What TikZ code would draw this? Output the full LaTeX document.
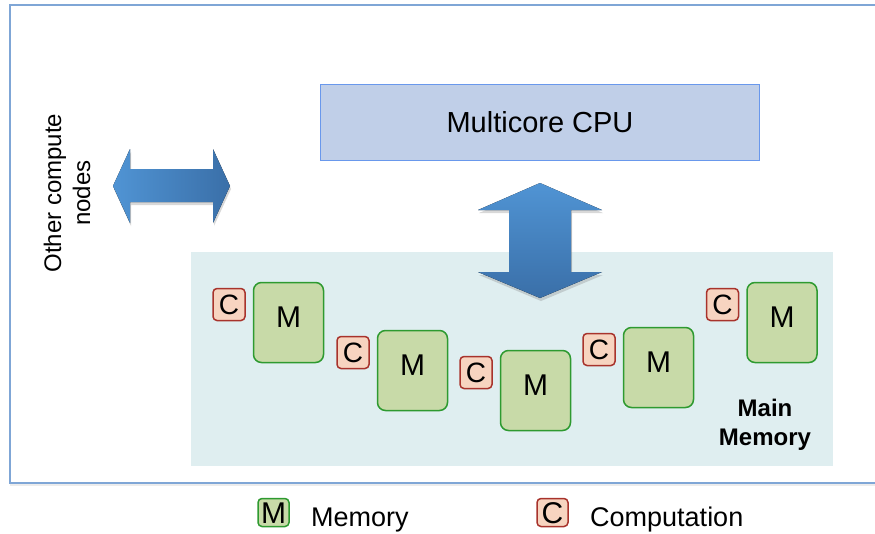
\documentclass[tikz,border=0pt]{standalone}
\usepackage{fontspec}
\setmainfont{Liberation Sans}
\usetikzlibrary{positioning,shadows}

\definecolor{framecol}{RGB}{127,166,214}
\definecolor{cpufill}{RGB}{192,207,232}
\definecolor{cpuline}{RGB}{105,152,236}
\definecolor{panelfill}{RGB}{223,238,240}
\definecolor{mfill}{RGB}{200,218,168}
\definecolor{mline}{RGB}{46,154,48}
\definecolor{cfill}{RGB}{247,212,192}
\definecolor{cline}{RGB}{168,51,44}
\definecolor{arrowlight}{RGB}{80,148,212}
\definecolor{arrowdark}{RGB}{58,111,168}

\begin{document}
\begin{tikzpicture}[x=1pt, y=-1pt,
    mbox/.style={draw=mline, fill=mfill, line width=1.5pt, rounded corners=8pt,
      minimum width=70pt, minimum height=80pt, text height=21pt, text depth=12pt,
      font=\fontsize{30}{34}\selectfont},
    cbox/.style={draw=cline, fill=cfill, line width=1.5pt, rounded corners=4pt,
      minimum size=32pt, inner sep=0pt, font=\fontsize{28}{32}\selectfont},
    legbox/.style={minimum width=31pt, minimum height=28pt, text height=21pt, text depth=0pt,
      inner sep=0pt, rounded corners=4pt, font=\fontsize{30}{34}\selectfont},
    legtext/.style={inner sep=0pt, anchor=base west, font=\fontsize{27}{32}\selectfont},
    shade/.style={drop shadow={shadow xshift=1pt, shadow yshift=-3pt, opacity=0.3}}]
    \clip (0,0) rectangle (875,533);

    % outer frame
    \draw[framecol, line width=1.5pt, fill=white,
      drop shadow={shadow xshift=0pt, shadow yshift=-3pt, opacity=0.15}] (10,5) rectangle (890,483);

    % cpu and memory
    \node[draw=cpuline, fill=cpufill, line width=1.5pt, minimum width=439pt, minimum height=76pt,
      font=\fontsize{29}{34}\selectfont] (cpu) at (540,122.5) {Multicore CPU};
    \node[fill=panelfill, minimum width=642pt, minimum height=214pt] (mem) at (512,359) {};

    % arrows
    \fill[shade, top color=arrowlight, bottom color=arrowdark]
      (540,183) -- (602,210) -- (571,210) -- (571,272) -- (602,272) -- (540,298)
      -- (478,272) -- (509,272) -- (509,210) -- (478,210) -- cycle;
    \fill[shade, left color=arrowlight, right color=arrowdark]
      (113,186) -- (130,149) -- (130,169) -- (213,169) -- (213,149) -- (230,186)
      -- (213,223) -- (213,202) -- (130,202) -- (130,223) -- cycle;

    \node[rotate=90, align=center, font=\fontsize{24}{29}\selectfont] (other) at (67,193)
      {Other compute\\nodes};

    % memory blocks
    \node[mbox] (m1) at (288.5,322.5) {M};
    \node[mbox] (m2) at (412.5,370.5) {M};
    \node[mbox] (m3) at (535.5,390.5) {M};
    \node[mbox] (m4) at (658.5,367.5) {M};
    \node[mbox] (m5) at (782,322.5) {M};

    \node[cbox, anchor=north east] (c1) at ([xshift=-7pt, yshift=-6pt]m1.north west) {C};
    \node[cbox, anchor=north east] (c2) at ([xshift=-7pt, yshift=-6pt]m2.north west) {C};
    \node[cbox, anchor=north east] (c3) at ([xshift=-7pt, yshift=-6pt]m3.north west) {C};
    \node[cbox, anchor=north east] (c4) at ([xshift=-7pt, yshift=-6pt]m4.north west) {C};
    \node[cbox, anchor=north east] (c5) at ([xshift=-7pt, yshift=-6pt]m5.north west) {C};

    \node[align=center, font=\fontsize{24}{29}\bfseries\selectfont] (memlabel) at (765,425)
      {Main\\Memory};

    % legend
    \node[legbox, draw=mline, fill=mfill, line width=1.5pt] (lm) at (273.5,512.5) {M};
    \node[legtext] (lmtext) at (311,526) {Memory};
    \node[legbox, draw=cline, fill=cfill, line width=1.5pt] (lc) at (552.5,512.5) {C};
    \node[legtext] (lctext) at (590,526) {Computation};
\end{tikzpicture}
\end{document}
